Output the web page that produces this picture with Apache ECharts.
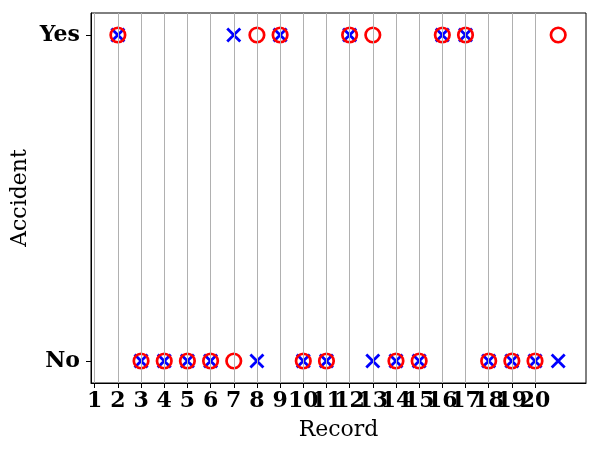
<!DOCTYPE html>
<html>
<head>
<meta charset="utf-8">
<script src="https://cdn.jsdelivr.net/npm/echarts@6/dist/echarts.min.js"></script>
<style>
html,body{margin:0;padding:0;background:#fff;}
#chart{width:599px;height:452px;}
</style>
</head>
<body>
<div id="chart"></div>
<script>
var records = [2,3,4,5,6,7,8,9,10,11,12,13,14,15,16,17,18,19,20,21];
// 1 = Yes, 0 = No
var circleValues = [1,0,0,0,0,0,1,1,0,0,1,1,0,0,1,1,0,0,0,1];
var crossValues  = [1,0,0,0,0,1,0,1,0,0,1,0,0,0,1,1,0,0,0,0];
var xTicks = [1,2,3,4,5,6,7,8,9,10,11,12,13,14,15,16,17,18,19,20];
var yTicks = [0,1];
var yTickLabels = ['No','Yes'];

var font = 'DejaVu Serif';
var chart = echarts.init(document.getElementById('chart'));

function pairs(vals){ return records.map(function(r,i){ return [r, vals[i]]; }); }
var oddTicks = xTicks.filter(function(t, i){ return i % 2 === 0; });
var evenTicks = xTicks.filter(function(t, i){ return i % 2 === 1; });

var labelStyle = {margin: 7, fontFamily: font, fontWeight: 'bold', fontSize: 22, color: '#000',
  showMinLabel: true, showMaxLabel: true, hideOverlap: false};

var option = {
  animation: false,
  grid: {left: 91, right: 13, top: 13, bottom: 69, show: true, borderColor: '#000', borderWidth: 1, backgroundColor: 'transparent'},
  xAxis: [{
    type: 'value', min: 0.84, max: 22.2, position: 'bottom',
    name: 'Record', nameLocation: 'middle', nameGap: 36, nameMoveOverlap: false,
    nameTextStyle: {fontFamily: font, fontSize: 22, color: '#000'},
    axisLine: {show: true, onZero: false, lineStyle: {color: '#000', width: 1}},
    axisTick: {show: true, length: 5, customValues: xTicks, lineStyle: {color: '#000', width: 1}},
    axisLabel: Object.assign({customValues: oddTicks}, labelStyle),
    splitLine: {show: false}
  }, {
    type: 'value', min: 0.84, max: 22.2, position: 'bottom', offset: 0,
    axisLine: {show: false, onZero: false},
    axisTick: {show: false},
    axisLabel: Object.assign({customValues: evenTicks}, labelStyle),
    splitLine: {show: false}
  }],
  yAxis: {
    type: 'value', min: -0.0675, max: 1.0675,
    name: 'Accident', nameLocation: 'middle', nameGap: 60, nameMoveOverlap: false,
    nameTextStyle: {fontFamily: font, fontSize: 22, color: '#000'},
    axisLine: {show: true, onZero: false, lineStyle: {color: '#000', width: 1}},
    axisTick: {show: true, length: 5, customValues: yTicks, lineStyle: {color: '#000', width: 1}},
    axisLabel: {customValues: yTicks, margin: 11, fontFamily: font, fontWeight: 'bold', fontSize: 22, color: '#000',
      showMinLabel: true, showMaxLabel: true,
      formatter: function(v){ var i = yTicks.indexOf(v); return i >= 0 ? yTickLabels[i] : ''; }},
    splitLine: {show: false}
  },
  series: [
    {
      type: 'scatter', name: 'grid', data: [], silent: true, z: 1,
      markLine: {
        silent: true, symbol: ['none','none'], label: {show: false},
        lineStyle: {color: '#b0b0b0', width: 1, type: 'solid'},
        data: xTicks.map(function(t){ return {xAxis: t}; })
      }
    },
    {
      type: 'scatter', name: 'cross', z: 3,
      symbol: 'path://M0,0L10,10M10,0L0,10', symbolSize: 13,
      itemStyle: {color: 'none', borderColor: '#0000ff', borderWidth: 2.8, opacity: 1},
      data: pairs(crossValues)
    },
    {
      type: 'scatter', name: 'circle', z: 4,
      symbol: 'circle', symbolSize: 14.5,
      itemStyle: {color: 'none', borderColor: '#ff0000', borderWidth: 2.7, opacity: 1},
      data: pairs(circleValues)
    }
  ]
};
chart.setOption(option);
</script>
</body>
</html>
